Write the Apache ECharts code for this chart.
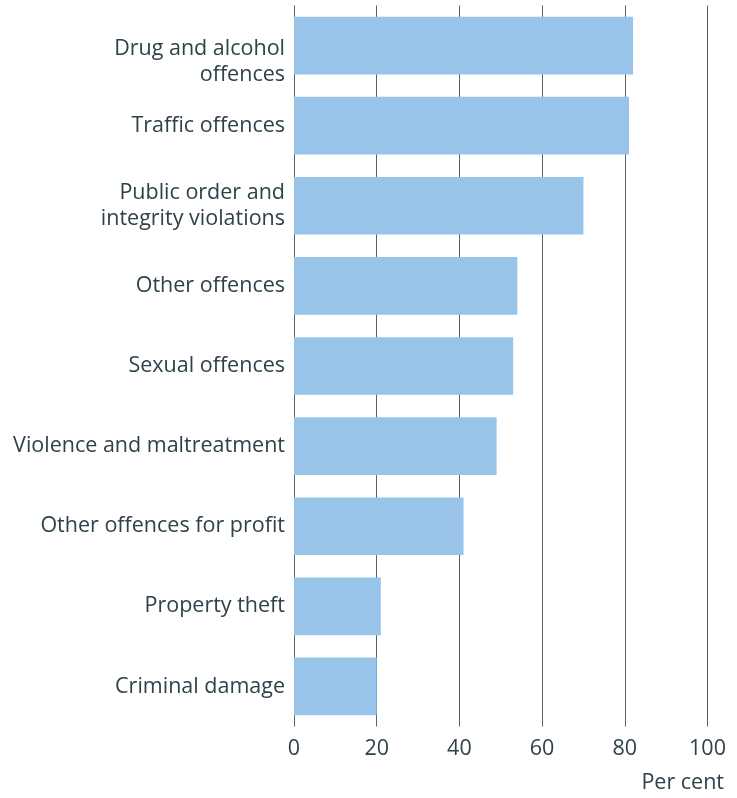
<!DOCTYPE html>
<html>
<head>
<meta charset="utf-8">
<script src="https://cdn.jsdelivr.net/npm/echarts@6/dist/echarts.min.js"></script>
<style>
html,body{margin:0;padding:0;background:#fff;}
#chart{width:737px;height:798px;}
</style>
</head>
<body>
<div id="chart"></div>
<script>
const categories = [
  "Drug and alcohol\noffences",
  "Traffic offences",
  "Public order and\nintegrity violations",
  "Other offences",
  "Sexual offences",
  "Violence and maltreatment",
  "Other offences for profit",
  "Property theft",
  "Criminal damage"
];
const values = [82, 81, 70, 54, 53, 49, 41, 21, 20];
const xTicks = [0, 20, 40, 60, 80, 100];
const unitLabel = "Per cent";

const textColor = "#2e4249";
const font = "'Open Sans', sans-serif";
const fs = 21.5;

const yData = categories.map((c, i) => i === 0
  ? {value: c, textStyle: {verticalAlign: 'top', padding: [-10, 0, 0, 0]}}
  : c);

const chart = echarts.init(document.getElementById('chart'), null, {renderer: 'canvas'});
chart.setOption({
  animation: false,
  backgroundColor: '#ffffff',
  grid: {left: 294, right: 29.5, top: 5.5, bottom: 71.5, containLabel: false},
  xAxis: {
    type: 'value',
    min: xTicks[0],
    max: xTicks[xTicks.length - 1],
    interval: xTicks[1] - xTicks[0],
    axisLine: {show: false},
    axisTick: {show: false},
    splitLine: {show: true, lineStyle: {color: '#55656b', width: 1}},
    axisLabel: {color: textColor, fontFamily: font, fontSize: fs, margin: 11}
  },
  yAxis: {
    type: 'category',
    data: yData,
    inverse: true,
    axisLine: {show: false},
    axisTick: {show: false},
    splitLine: {show: false},
    axisLabel: {color: textColor, fontFamily: font, fontSize: fs, lineHeight: 26, margin: 9, align: 'right', padding: [6, 0, 0, 0]}
  },
  series: [{
    type: 'bar',
    data: values,
    barCategoryGap: '28%',
    itemStyle: {color: '#97c4e8'},
    silent: true
  }],
  graphic: [{
    type: 'text',
    right: 13,
    top: 772,
    style: {text: unitLabel, fill: textColor, font: fs + "px 'Open Sans', sans-serif", textAlign: 'right'}
  }]
});
</script>
</body>
</html>
